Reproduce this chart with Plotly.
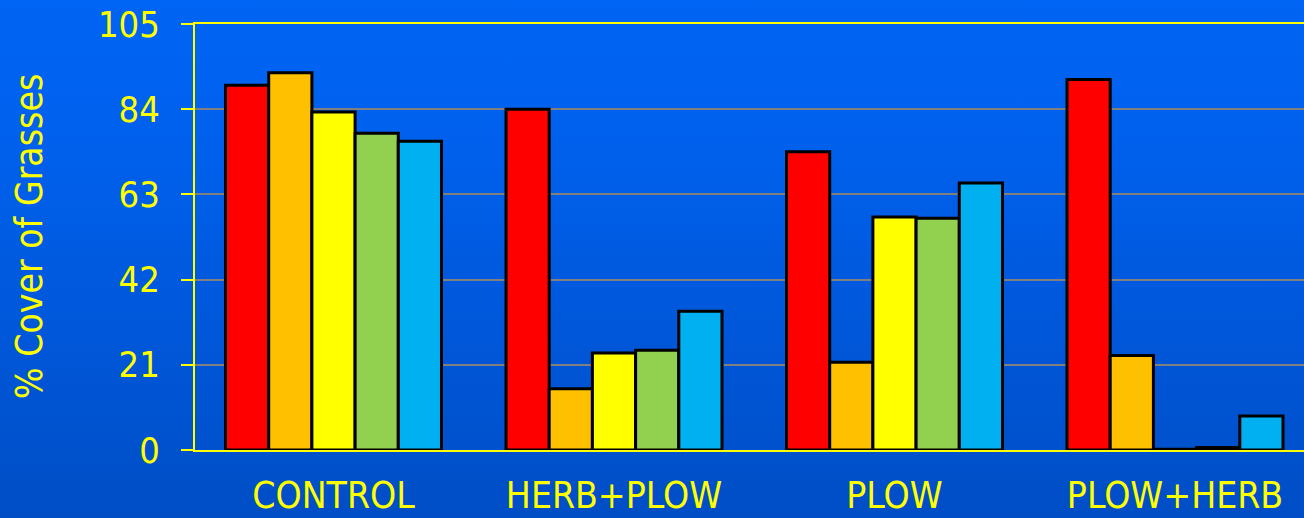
import base64
import plotly.graph_objects as go

# Treatment groups and the five measurement series (% cover of grasses)
categories = ["CONTROL", "HERB+PLOW", "PLOW", "PLOW+HERB"]
series_names = ["Series 1", "Series 2", "Series 3", "Series 4", "Series 5"]
series_1 = [89.9, 84.0, 73.5, 91.3]
series_2 = [93.0, 15.1, 21.6, 23.3]
series_3 = [83.3, 23.9, 57.4, 0.2]
series_4 = [78.1, 24.6, 57.1, 0.6]
series_5 = [76.1, 34.2, 65.8, 8.4]
y_ticks = [0, 21, 42, 63, 84, 105]

series_values = [series_1, series_2, series_3, series_4, series_5]
series_colors = ["#FF0000", "#FFC000", "#FFFF00", "#92D050", "#00B0F0"]

FONT = "DejaVu Sans Condensed, DejaVu Sans, sans-serif"
YELLOW = "#FFFF00"

W, H = 1304, 518
ML, MR, MT, MB = 195, 0, 24, 68
plot_w = W - ML - MR
plot_h = H - MT - MB

# category slot width and centre of the first group, in pixels
CAT_W = 280.5
FIRST_CENTER = 333.5
x_lo = -(FIRST_CENTER - ML) / CAT_W
x_hi = x_lo + plot_w / CAT_W

fig = go.Figure()
for name, vals, col in zip(series_names, series_values, series_colors):
    fig.add_trace(go.Bar(
        x=categories, y=vals, name=name,
        marker=dict(color=col, line=dict(color="#000000", width=3)),
    ))

# vertical blue gradient behind the whole figure
svg = (
    "<svg xmlns='http://www.w3.org/2000/svg' width='10' height='100' "
    "preserveAspectRatio='none'><defs><linearGradient id='g' x1='0' y1='0' "
    "x2='0' y2='1'><stop offset='0' stop-color='#0064F4'/>"
    "<stop offset='0.25' stop-color='#0061EE'/>"
    "<stop offset='1' stop-color='#004DC4'/></linearGradient></defs>"
    "<rect width='10' height='100' fill='url(#g)'/></svg>"
)
src = "data:image/svg+xml;base64," + base64.b64encode(svg.encode()).decode()
fig.add_layout_image(dict(
    source=src, xref="paper", yref="paper",
    x=-ML / plot_w - 0.01, y=(plot_h + MT) / plot_h + 0.01,
    sizex=W / plot_w + 0.05, sizey=H / plot_h + 0.05,
    xanchor="left", yanchor="top", sizing="stretch", layer="below",
))

fig.add_annotation(
    text="% Cover of Grasses", textangle=-90,
    xref="paper", yref="paper",
    x=(29 - ML) / plot_w, y=0.5,
    xanchor="center", yanchor="middle", showarrow=False,
    font=dict(family=FONT, size=37, color=YELLOW),
)

fig.update_layout(
    width=W, height=H,
    margin=dict(l=ML, r=MR, t=MT, b=MB, pad=0, autoexpand=False),
    paper_bgcolor="#0058DC",
    plot_bgcolor="rgba(0,0,0,0)",
    barmode="group", bargap=0.23, bargroupgap=0,
    showlegend=False,
    font=dict(family=FONT, size=37, color=YELLOW),
    xaxis=dict(
        range=[x_lo, x_hi], autorange=False, automargin=False,
        showline=True, linecolor=YELLOW, linewidth=2, mirror=True,
        ticks="", showgrid=False, zeroline=False,
        tickfont=dict(family=FONT, size=37, color=YELLOW),
        ticklabelstandoff=12,
    ),
    yaxis=dict(
        range=[0, 105], autorange=False, automargin=False,
        tickvals=y_ticks, ticktext=[str(v) for v in y_ticks],
        showline=True, linecolor=YELLOW, linewidth=2,
        ticks="outside", ticklen=12, tickwidth=2, tickcolor=YELLOW,
        showgrid=True, gridcolor="#808080", gridwidth=2,
        zeroline=False,
        tickfont=dict(family=FONT, size=36, color=YELLOW),
        ticklabelstandoff=14,
    ),
)

fig.write_html("out.html")
